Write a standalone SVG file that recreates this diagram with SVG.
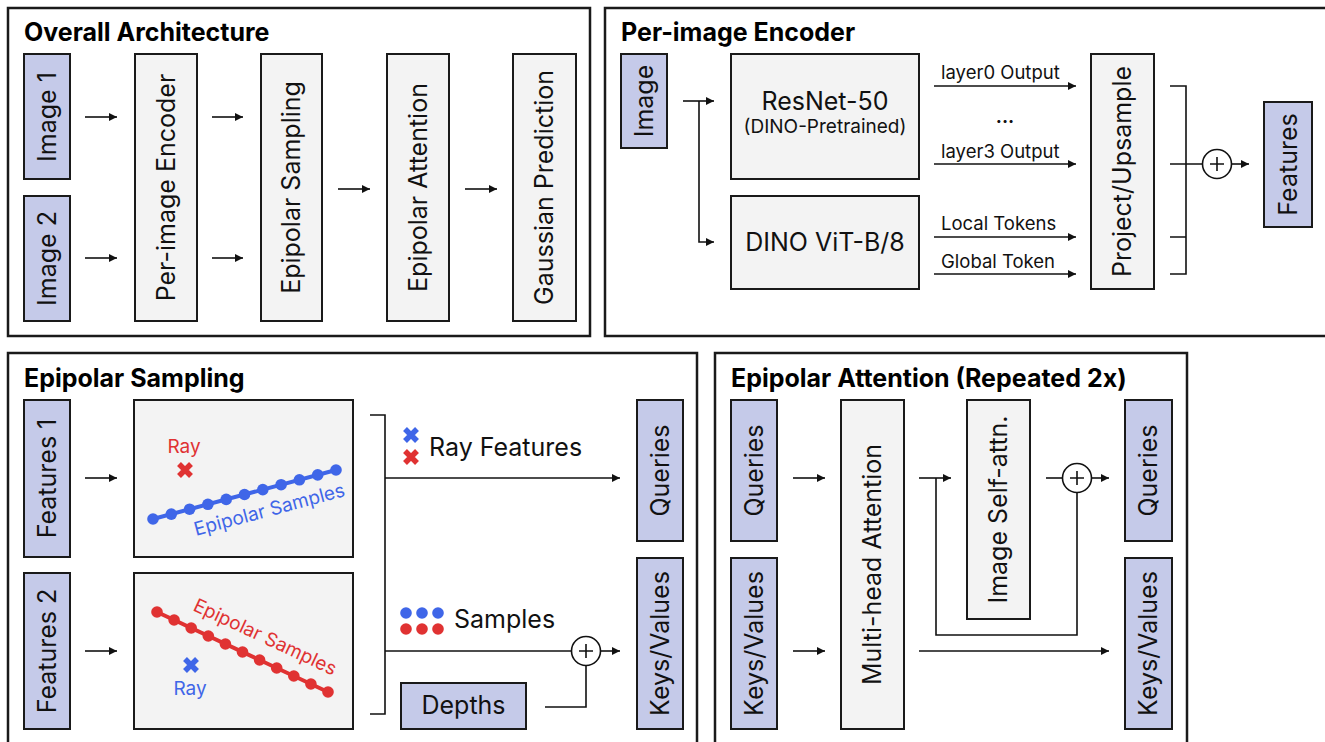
<svg xmlns="http://www.w3.org/2000/svg" width="1325" height="742" viewBox="0 0 1325 742">
<style>
.panel{fill:#fff;stroke:#1a1a1a;stroke-width:2.5}
.io{fill:#c5cae9;stroke:#1a1a1a;stroke-width:2}
.blk{fill:#f3f3f3;stroke:#1a1a1a;stroke-width:2}
.ln{fill:none;stroke:#111;stroke-width:1.6}
.arr{fill:none;stroke:#111;stroke-width:1.6;marker-end:url(#ah)}
.title{font-family:Inter,"Noto Sans",sans-serif;font-weight:700;font-size:25px;fill:#000}
.t{font-family:Inter,"Noto Sans",sans-serif;font-size:25px;fill:#111}
.rt{font-family:Inter,"Noto Sans",sans-serif;font-size:25px;fill:#111;text-anchor:middle}
.lbl{font-family:Inter,"Noto Sans",sans-serif;font-size:18.5px;fill:#111}
.sum{fill:#fff;stroke:#111;stroke-width:1.6}
.blue{fill:#3f66e8}
.red{fill:#e03232}
</style>
<defs>
<marker id="ah" viewBox="0 0 8 8" refX="8" refY="4" markerWidth="8" markerHeight="8" markerUnits="userSpaceOnUse" orient="auto">
<path d="M0,0 L8,4 L0,8 z" fill="#111"/>
</marker>
<g id="plus">
<circle cx="0" cy="0" r="14.5" class="sum"/>
<path d="M-7,0 H7 M0,-7 V7" stroke="#111" stroke-width="1.6"/>
</g>
<g id="xmark">
<path d="M-6,-6 L6,6 M6,-6 L-6,6" stroke-width="5.5"/>
</g>
</defs>

<!-- Panels -->
<g id="panel-overall">
<rect x="8" y="8" width="582" height="328" class="panel"/>
<text x="24" y="41" class="title">Overall Architecture</text>
</g>
<g id="panel-encoder">
<rect x="605" y="8" width="730" height="328" class="panel"/>
<text x="621" y="41" class="title">Per-image Encoder</text>
</g>
<g id="panel-sampling">
<rect x="8" y="353" width="689" height="400" class="panel"/>
<text x="24" y="387" class="title">Epipolar Sampling</text>
</g>
<g id="panel-attention">
<rect x="715" y="353" width="472" height="400" class="panel"/>
<text x="731" y="387" class="title">Epipolar Attention (Repeated 2x)</text>
</g>

<!-- Overall architecture nodes -->
<g id="oa-image1"><rect x="24" y="54" width="46" height="125" class="io"/><text class="rt" transform="translate(47,117) rotate(-90)" dy=".35em">Image 1</text></g>
<g id="oa-image2"><rect x="24" y="196" width="46" height="125" class="io"/><text class="rt" transform="translate(47,258.5) rotate(-90)" dy=".35em">Image 2</text></g>
<g id="oa-encoder"><rect x="135" y="54" width="62" height="267" class="blk"/><text class="rt" transform="translate(166,187.5) rotate(-90)" dy=".35em">Per-image Encoder</text></g>
<g id="oa-sampling"><rect x="261" y="54" width="61" height="267" class="blk"/><text class="rt" transform="translate(291.5,187.5) rotate(-90)" dy=".35em">Epipolar Sampling</text></g>
<g id="oa-attention"><rect x="387" y="54" width="62" height="267" class="blk"/><text class="rt" transform="translate(418,187.5) rotate(-90)" dy=".35em">Epipolar Attention</text></g>
<g id="oa-gaussian"><rect x="513" y="54" width="63" height="267" class="blk"/><text class="rt" transform="translate(544.5,187.5) rotate(-90)" dy=".35em">Gaussian Prediction</text></g>

<!-- Encoder nodes -->
<g id="enc-image"><rect x="621" y="54" width="46" height="94" class="io"/><text class="rt" transform="translate(644,101) rotate(-90)" dy=".35em">Image</text></g>
<g id="enc-resnet"><rect x="731" y="54" width="188" height="125" class="blk"/>
<text x="825" y="110" font-family="Inter,'Noto Sans',sans-serif" font-size="25" text-anchor="middle" fill="#111">ResNet-50</text>
<text x="825" y="133" font-family="Inter,'Noto Sans',sans-serif" font-size="19" text-anchor="middle" fill="#111">(DINO-Pretrained)</text></g>
<g id="enc-vit"><rect x="731" y="196" width="188" height="93" class="blk"/>
<text x="825" y="251" font-family="Inter,'Noto Sans',sans-serif" font-size="25" text-anchor="middle" fill="#111">DINO ViT-B/8</text></g>
<g id="enc-project"><rect x="1091" y="54" width="63" height="235" class="blk"/><text class="rt" transform="translate(1122.5,171.5) rotate(-90)" dy=".35em">Project/Upsample</text></g>
<g id="enc-features"><rect x="1264" y="102" width="48" height="125" class="io"/><text class="rt" transform="translate(1288,164.5) rotate(-90)" dy=".35em">Features</text></g>

<!-- Sampling nodes -->
<g id="es-features1"><rect x="24" y="400" width="46" height="157" class="io"/><text class="rt" transform="translate(47,478.5) rotate(-90)" dy=".35em">Features 1</text></g>
<g id="es-features2"><rect x="24" y="573" width="46" height="156" class="io"/><text class="rt" transform="translate(47,651) rotate(-90)" dy=".35em">Features 2</text></g>
<g id="es-view1"><rect x="134" y="400" width="219" height="157" class="blk"/>
<text x="184" y="453" font-family="Inter,'Noto Sans',sans-serif" font-size="19" text-anchor="middle" fill="#e03232">Ray</text>
<use href="#xmark" x="185" y="470" stroke="#e03232"/>
<line x1="153" y1="519" x2="336" y2="470" stroke="#3f66e8" stroke-width="4"/>
<g class="blue">
<circle cx="153" cy="519" r="5.8"/><circle cx="171.3" cy="514.1" r="5.8"/><circle cx="189.6" cy="509.2" r="5.8"/><circle cx="207.9" cy="504.3" r="5.8"/><circle cx="226.2" cy="499.4" r="5.8"/><circle cx="244.5" cy="494.5" r="5.8"/><circle cx="262.8" cy="489.6" r="5.8"/><circle cx="281.1" cy="484.7" r="5.8"/><circle cx="299.4" cy="479.8" r="5.8"/><circle cx="317.7" cy="474.9" r="5.8"/><circle cx="336" cy="470" r="5.8"/>
</g>
<text transform="translate(196,536) rotate(-15)" font-family="Inter,'Noto Sans',sans-serif" font-size="19" fill="#3f66e8">Epipolar Samples</text>
</g>
<g id="es-view2"><rect x="134" y="573" width="219" height="156" class="blk"/>
<line x1="157" y1="612" x2="328" y2="692" stroke="#e03232" stroke-width="4"/>
<g class="red">
<circle cx="157" cy="612" r="5.8"/><circle cx="174.1" cy="620" r="5.8"/><circle cx="191.2" cy="628" r="5.8"/><circle cx="208.3" cy="636" r="5.8"/><circle cx="225.4" cy="644" r="5.8"/><circle cx="242.5" cy="652" r="5.8"/><circle cx="259.6" cy="660" r="5.8"/><circle cx="276.7" cy="668" r="5.8"/><circle cx="293.8" cy="676" r="5.8"/><circle cx="310.9" cy="684" r="5.8"/><circle cx="328" cy="692" r="5.8"/>
</g>
<text transform="translate(192,610) rotate(25)" font-family="Inter,'Noto Sans',sans-serif" font-size="19" fill="#e03232">Epipolar Samples</text>
<use href="#xmark" x="191" y="665" stroke="#3f66e8"/>
<text x="190" y="695" font-family="Inter,'Noto Sans',sans-serif" font-size="19" text-anchor="middle" fill="#3f66e8">Ray</text>
</g>
<g id="es-rayfeatures">
<use href="#xmark" x="411" y="435" stroke="#3f66e8"/>
<use href="#xmark" x="411" y="457" stroke="#e03232"/>
<text x="429" y="456" class="t">Ray Features</text>
</g>
<g id="es-samples">
<circle cx="406" cy="613" r="5.8" class="blue"/><circle cx="422" cy="613" r="5.8" class="blue"/><circle cx="438" cy="613" r="5.8" class="blue"/>
<circle cx="406" cy="629" r="5.8" class="red"/><circle cx="422" cy="629" r="5.8" class="red"/><circle cx="438" cy="629" r="5.8" class="red"/>
<text x="454" y="628" class="t">Samples</text>
</g>
<g id="es-depths"><rect x="401" y="683" width="125" height="46" class="io"/><text x="463.5" y="714" class="t" text-anchor="middle">Depths</text></g>
<g id="es-queries"><rect x="637" y="400" width="46" height="141" class="io"/><text class="rt" transform="translate(660,470.5) rotate(-90)" dy=".35em">Queries</text></g>
<g id="es-keys"><rect x="637" y="558" width="46" height="171" class="io"/><text class="rt" transform="translate(660,643.5) rotate(-90)" dy=".35em">Keys/Values</text></g>

<!-- Attention nodes -->
<g id="ea-queries"><rect x="731" y="400" width="46" height="141" class="io"/><text class="rt" transform="translate(754,470.5) rotate(-90)" dy=".35em">Queries</text></g>
<g id="ea-keys"><rect x="731" y="558" width="46" height="171" class="io"/><text class="rt" transform="translate(754,643.5) rotate(-90)" dy=".35em">Keys/Values</text></g>
<g id="ea-mha"><rect x="841" y="400" width="63" height="329" class="blk"/><text class="rt" transform="translate(872.5,564.5) rotate(-90)" dy=".35em">Multi-head Attention</text></g>
<g id="ea-selfattn"><rect x="967" y="400" width="63" height="219" class="blk"/><text class="rt" transform="translate(998.5,509.5) rotate(-90)" dy=".35em">Image Self-attn.</text></g>
<g id="ea-queries-out"><rect x="1125" y="400" width="47" height="141" class="io"/><text class="rt" transform="translate(1148.5,470.5) rotate(-90)" dy=".35em">Queries</text></g>
<g id="ea-keys-out"><rect x="1125" y="558" width="47" height="171" class="io"/><text class="rt" transform="translate(1148.5,643.5) rotate(-90)" dy=".35em">Keys/Values</text></g>

<!-- Connectors -->
<g id="connectors">
<!-- overall -->
<path d="M85,117 H117" class="arr"/>
<path d="M85,258 H117" class="arr"/>
<path d="M212,117 H243" class="arr"/>
<path d="M212,258 H243" class="arr"/>
<path d="M338,189 H370" class="arr"/>
<path d="M465,189 H497" class="arr"/>
<!-- encoder -->
<path d="M683,101 H714" class="arr"/>
<path d="M699,101 V242 H714" class="arr"/>
<path d="M934,86 H1076" class="arr"/>
<path d="M934,164 H1076" class="arr"/>
<path d="M934,237 H1076" class="arr"/>
<path d="M934,274 H1076" class="arr"/>
<text x="941" y="79" class="lbl">layer0 Output</text>
<text x="1005" y="123" class="lbl" text-anchor="middle" font-size="26" font-weight="700">...</text>
<text x="941" y="158" class="lbl">layer3 Output</text>
<text x="941" y="230" class="lbl">Local Tokens</text>
<text x="941" y="268" class="lbl">Global Token</text>
<path d="M1170,86 H1186 V274 H1170 M1170,237 H1186 M1170,164 H1202.5" class="ln"/>
<use href="#plus" x="1217" y="164"/>
<path d="M1231.5,164 H1249" class="arr"/>
<!-- sampling -->
<path d="M85,478 H117" class="arr"/>
<path d="M85,651 H117" class="arr"/>
<path d="M370,415 H385 V714 H370" class="ln"/>
<path d="M385,478 H620" class="arr"/>
<path d="M385,651 H571" class="ln"/>
<use href="#plus" x="586" y="651"/>
<path d="M600.5,651 H620" class="arr"/>
<path d="M545,707 H586 V665.5" class="ln"/>
<!-- attention -->
<path d="M793,478 H825" class="arr"/>
<path d="M793,651 H825" class="arr"/>
<path d="M919,478 H951" class="arr"/>
<path d="M936,478 V635 H1077 V492.5" class="ln"/>
<path d="M1046,478 H1062.5" class="ln"/>
<use href="#plus" x="1077" y="478"/>
<path d="M1091.5,478 H1109" class="arr"/>
<path d="M919,651 H1109" class="arr"/>
</g>
</svg>
